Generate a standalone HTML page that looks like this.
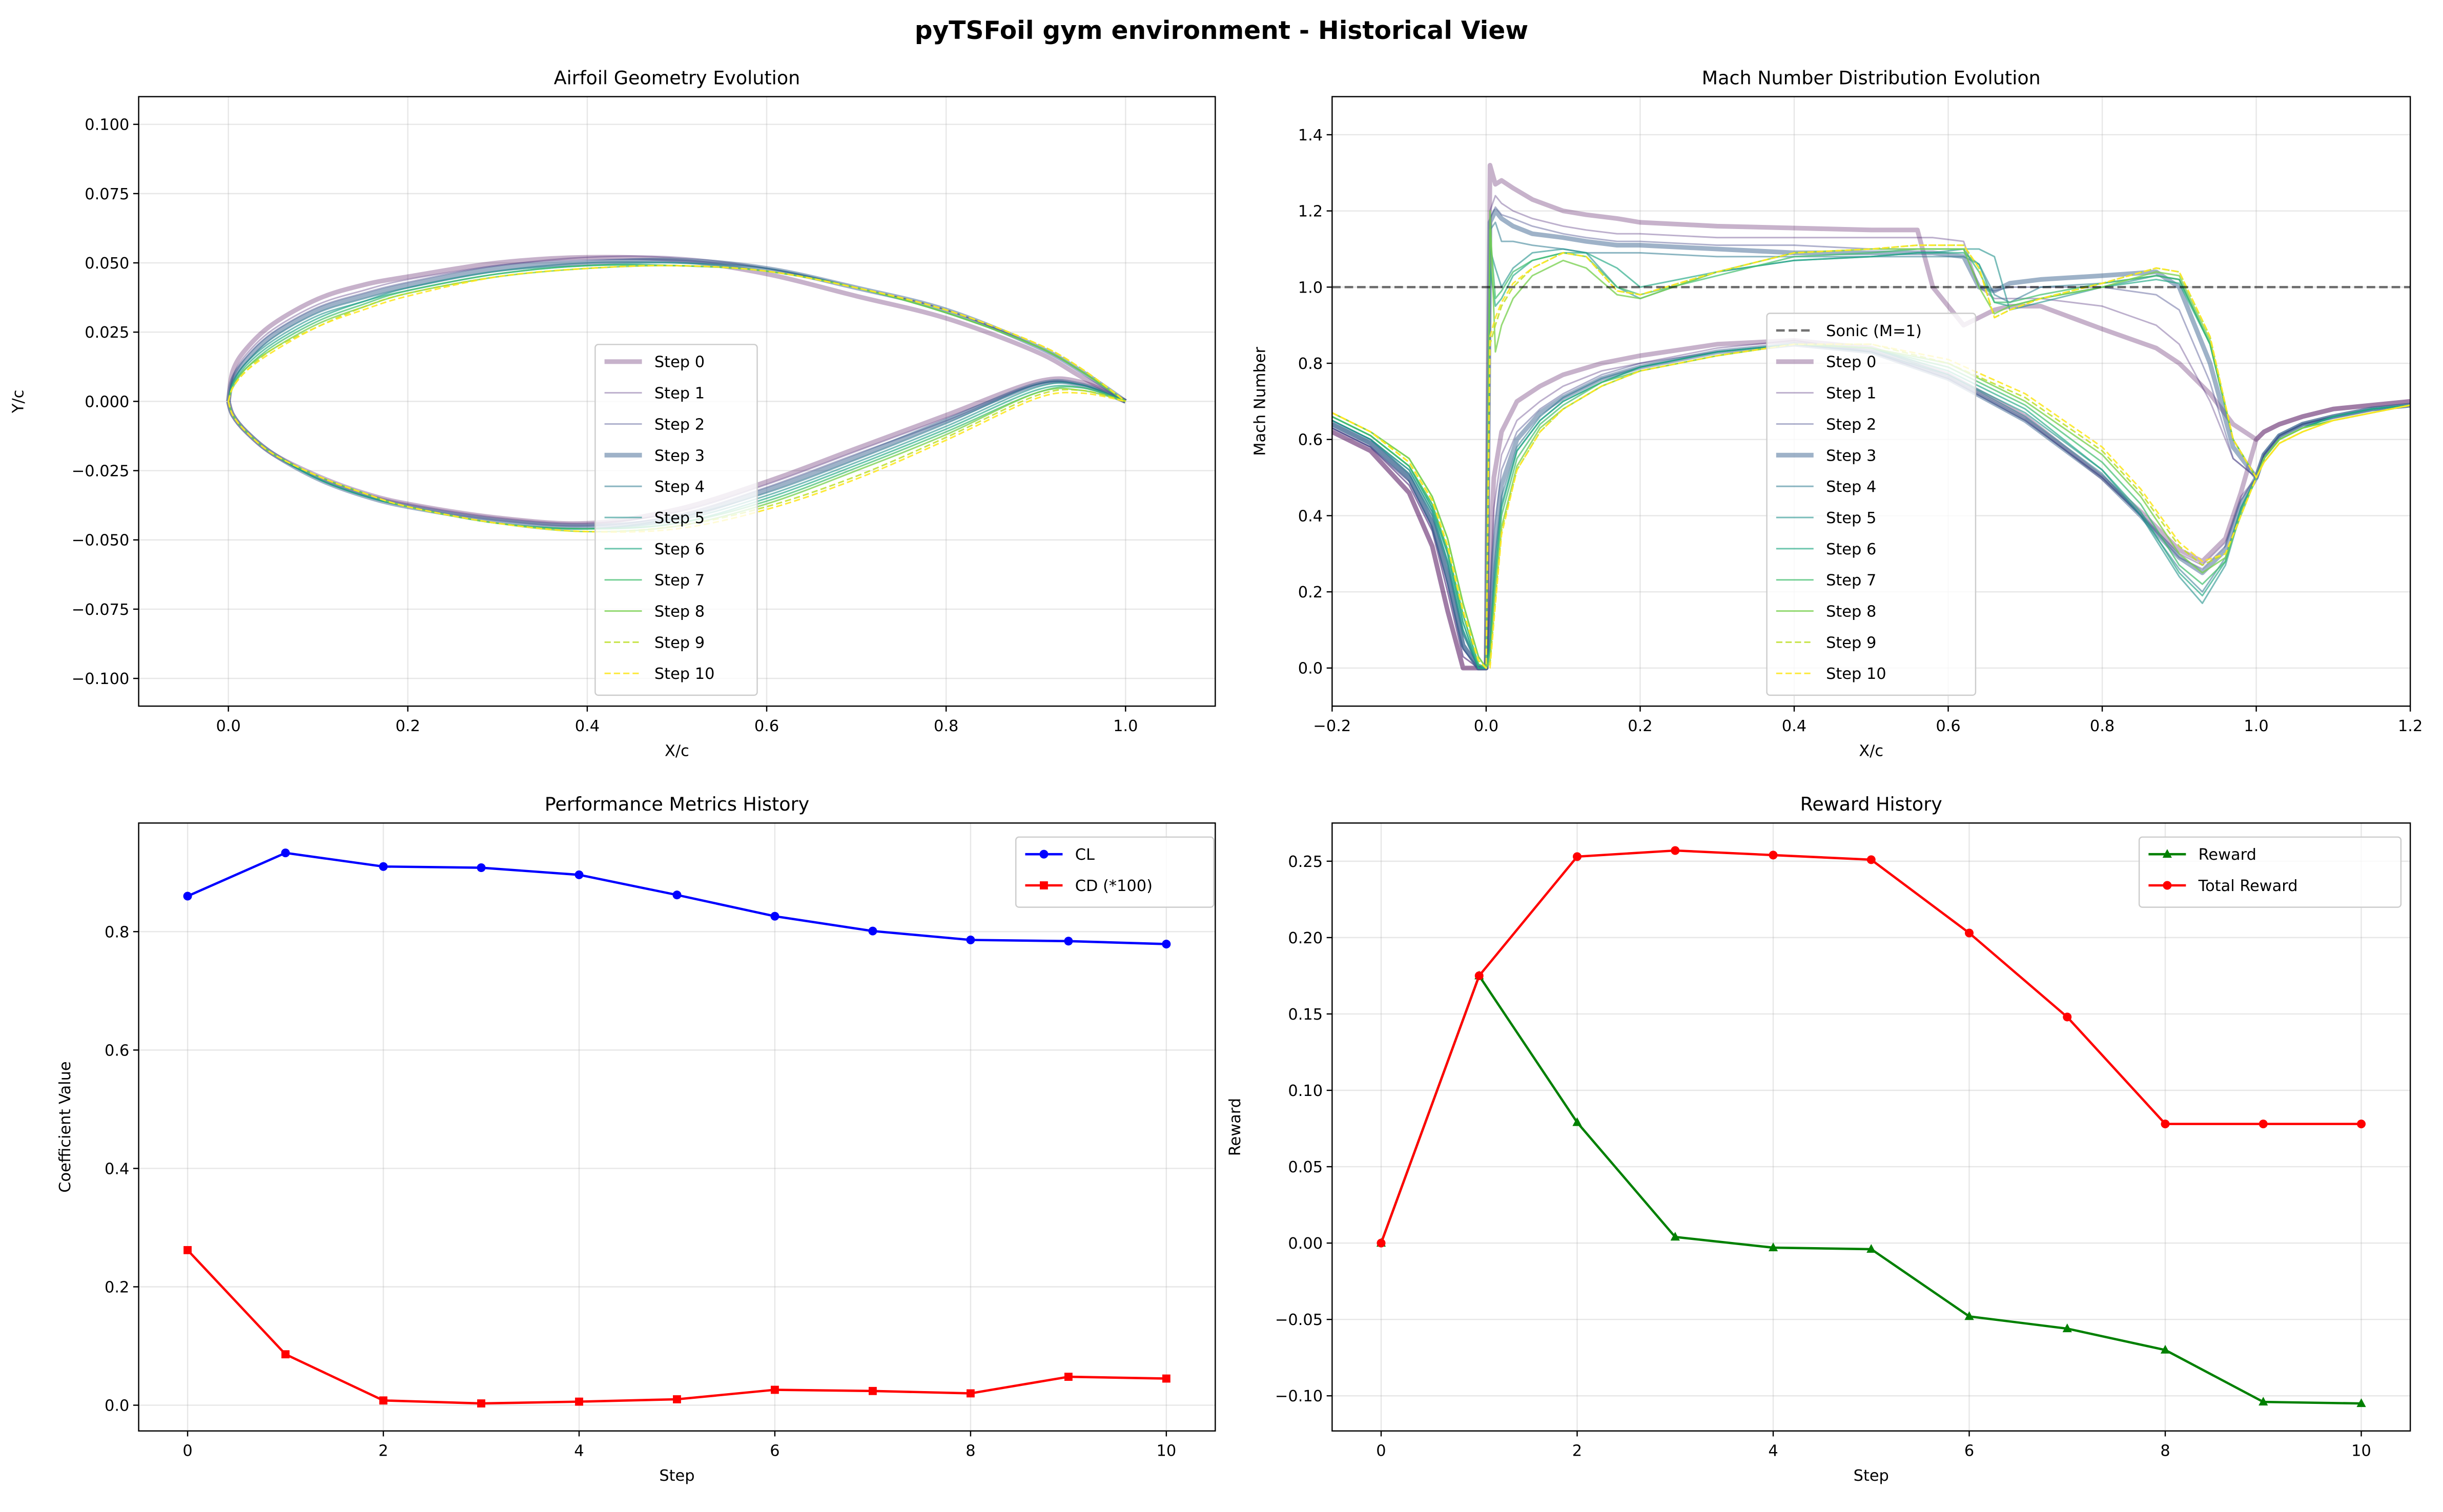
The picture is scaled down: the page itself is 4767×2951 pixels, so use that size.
<!DOCTYPE html>
<html><head><meta charset="utf-8"><style>
html,body{margin:0;padding:0;background:#fff;}
svg{display:block;font-family:"DejaVu Sans","Liberation Sans",sans-serif;}
</style></head><body>
<svg id="fig" xmlns="http://www.w3.org/2000/svg" width="4767" height="2951" viewBox="0 0 1568 970" preserveAspectRatio="none">
<rect x="0" y="0" width="1568" height="970" fill="#fff"/>
<text x="784" y="25" font-size="16" font-weight="bold" text-anchor="middle">pyTSFoil gym environment - Historical View</text>
</svg>
<script>
// ---------- DATA ----------
const stepLabels = ["Step 0","Step 1","Step 2","Step 3","Step 4","Step 5","Step 6","Step 7","Step 8","Step 9","Step 10"];
const stepColors = ["#440154","#482475","#414487","#355f8d","#2a788e","#21918c","#22a884","#44bf70","#7ad151","#bddf26","#fde725"];
const geoX = [0,0.005,0.02,0.05,0.1,0.15,0.2,0.3,0.4,0.5,0.6,0.7,0.8,0.9,0.95,1.0];
const geoUpper = [
 [0,0.011,0.019,0.028,0.037,0.042,0.045,0.050,0.052,0.051,0.046,0.038,0.030,0.018,0.009,0],
 [0,0.009,0.017,0.026,0.035,0.040,0.044,0.049,0.052,0.052,0.048,0.041,0.033,0.020,0.011,0],
 [0,0.008,0.016,0.025,0.034,0.039,0.043,0.049,0.051,0.051,0.048,0.041,0.033,0.020,0.011,0],
 [0,0.008,0.015,0.024,0.033,0.038,0.042,0.048,0.050,0.051,0.048,0.041,0.033,0.020,0.011,0],
 [0,0.007,0.014,0.023,0.032,0.037,0.041,0.047,0.050,0.050,0.048,0.041,0.032,0.020,0.011,0],
 [0,0.007,0.014,0.022,0.031,0.036,0.041,0.047,0.049,0.050,0.047,0.041,0.032,0.020,0.011,0],
 [0,0.006,0.013,0.021,0.030,0.036,0.040,0.046,0.049,0.049,0.047,0.041,0.032,0.020,0.011,0],
 [0,0.006,0.012,0.020,0.029,0.035,0.040,0.046,0.049,0.049,0.047,0.041,0.032,0.020,0.011,0],
 [0,0.005,0.012,0.019,0.028,0.034,0.039,0.045,0.048,0.049,0.047,0.041,0.032,0.020,0.011,0],
 [0,0.005,0.011,0.019,0.027,0.034,0.039,0.045,0.048,0.049,0.047,0.041,0.033,0.021,0.012,0],
 [0,0.005,0.011,0.018,0.027,0.033,0.038,0.045,0.048,0.049,0.047,0.041,0.033,0.021,0.012,0]];
const geoLower = [
 [0,-0.005,-0.011,-0.019,-0.027,-0.033,-0.037,-0.042,-0.044,-0.039,-0.029,-0.017,-0.005,0.007,0.007,0],
 [0,-0.005,-0.011,-0.019,-0.027,-0.033,-0.037,-0.042,-0.044,-0.040,-0.030,-0.018,-0.006,0.006,0.006,0],
 [0,-0.005,-0.011,-0.019,-0.027,-0.033,-0.038,-0.043,-0.045,-0.041,-0.031,-0.019,-0.007,0.006,0.006,0],
 [0,-0.005,-0.011,-0.019,-0.028,-0.034,-0.038,-0.043,-0.045,-0.042,-0.032,-0.020,-0.007,0.006,0.006,0],
 [0,-0.005,-0.011,-0.019,-0.028,-0.034,-0.038,-0.044,-0.046,-0.042,-0.033,-0.021,-0.008,0.006,0.006,0],
 [0,-0.005,-0.011,-0.019,-0.028,-0.034,-0.038,-0.044,-0.046,-0.043,-0.034,-0.022,-0.009,0.005,0.006,0],
 [0,-0.005,-0.011,-0.019,-0.028,-0.034,-0.038,-0.044,-0.046,-0.044,-0.035,-0.023,-0.010,0.004,0.005,0],
 [0,-0.005,-0.011,-0.019,-0.027,-0.033,-0.038,-0.044,-0.046,-0.044,-0.036,-0.024,-0.011,0.003,0.005,0],
 [0,-0.005,-0.011,-0.019,-0.027,-0.033,-0.038,-0.044,-0.047,-0.045,-0.037,-0.025,-0.012,0.003,0.004,0],
 [0,-0.005,-0.011,-0.019,-0.027,-0.033,-0.038,-0.044,-0.047,-0.045,-0.038,-0.027,-0.013,0.002,0.004,0],
 [0,-0.005,-0.011,-0.019,-0.027,-0.033,-0.038,-0.044,-0.047,-0.046,-0.039,-0.028,-0.014,0.001,0.003,0]];
const machXUp = [-0.2,-0.15,-0.1,-0.07,-0.05,-0.03,-0.01,0.0];
const machUpstream = [
 [0.62,0.57,0.46,0.32,0.15,0.0,0.0,0.0],[0.63,0.58,0.48,0.36,0.2,0.03,0.0,0.0],[0.63,0.58,0.49,0.37,0.22,0.05,0.0,0.0],
 [0.64,0.59,0.5,0.38,0.24,0.06,0.0,0.0],[0.65,0.6,0.51,0.4,0.27,0.09,0.0,0.0],[0.65,0.6,0.52,0.41,0.28,0.1,0.0,0.0],
 [0.66,0.61,0.53,0.42,0.3,0.12,0.0,0.0],[0.66,0.61,0.53,0.43,0.31,0.14,0.01,0.0],[0.67,0.62,0.55,0.45,0.34,0.17,0.03,0.0],
 [0.67,0.62,0.54,0.44,0.32,0.15,0.02,0.0],[0.67,0.62,0.54,0.44,0.32,0.15,0.02,0.0]];
const machXU = [0,0.005,0.012,0.02,0.035,0.06,0.1,0.13,0.17,0.2,0.3,0.4,0.5,0.56,0.58,0.62,0.64,0.66,0.68,0.72,0.8,0.87,0.9,0.94,0.97,1.0];
const machUpper = [
 [0,1.32,1.27,1.28,1.26,1.23,1.2,1.19,1.18,1.17,1.16,1.155,1.15,1.15,1.0,0.9,0.92,0.94,0.95,0.95,0.89,0.84,0.8,0.72,0.64,0.6],
 [0,1.2,1.24,1.22,1.2,1.18,1.16,1.15,1.14,1.14,1.13,1.13,1.13,1.13,1.13,1.12,1.0,0.97,0.97,0.97,0.95,0.9,0.85,0.7,0.55,0.5],
 [0,1.18,1.21,1.19,1.18,1.16,1.14,1.13,1.12,1.12,1.11,1.11,1.1,1.1,1.1,1.1,1.0,0.99,1.0,1.0,1.0,0.98,0.94,0.75,0.55,0.5],
 [0,1.17,1.2,1.18,1.16,1.14,1.13,1.12,1.11,1.11,1.1,1.09,1.09,1.09,1.09,1.08,1.0,0.99,1.01,1.02,1.03,1.04,1.0,0.8,0.58,0.5],
 [0,1.15,1.17,1.12,1.12,1.11,1.1,1.09,1.09,1.09,1.08,1.08,1.08,1.08,1.08,1.08,1.06,0.98,0.96,1.0,1.01,1.03,1.02,0.85,0.6,0.5],
 [0,1.1,1.05,1.0,1.05,1.09,1.1,1.09,1.0,0.97,1.04,1.07,1.08,1.09,1.09,1.1,1.1,1.08,0.94,0.96,1.0,1.03,1.02,0.85,0.6,0.5],
 [0,1.05,0.95,0.97,1.03,1.07,1.09,1.09,1.05,1.0,1.04,1.07,1.08,1.09,1.09,1.09,1.06,0.96,0.95,0.97,1.0,1.02,1.01,0.85,0.6,0.5],
 [0,1.15,0.97,0.99,1.04,1.07,1.09,1.08,1.0,0.98,1.03,1.08,1.09,1.1,1.1,1.1,1.04,0.96,0.96,0.98,1.01,1.03,1.02,0.85,0.6,0.5],
 [0,1.2,0.83,0.9,0.97,1.03,1.07,1.05,0.98,0.97,1.04,1.09,1.1,1.1,1.1,1.1,1.0,0.93,0.95,0.97,1.0,1.04,1.03,0.86,0.6,0.5],
 [0,0.85,0.9,0.95,1.0,1.05,1.09,1.08,0.99,0.98,1.04,1.09,1.1,1.11,1.11,1.11,1.05,0.92,0.94,0.97,1.01,1.05,1.04,0.87,0.6,0.5],
 [0,0.87,0.92,0.96,1.01,1.05,1.09,1.08,0.99,0.98,1.04,1.09,1.1,1.11,1.11,1.11,1.05,0.92,0.94,0.97,1.01,1.05,1.04,0.87,0.6,0.5]];
const machXL = [0,0.005,0.01,0.02,0.04,0.07,0.1,0.15,0.2,0.3,0.4,0.5,0.6,0.7,0.8,0.85,0.9,0.93,0.96,0.98,1.0];
const machLower = [
 [0,0.3,0.5,0.62,0.7,0.74,0.77,0.8,0.82,0.85,0.86,0.84,0.77,0.66,0.5,0.41,0.31,0.28,0.34,0.46,0.6],
 [0,0.2,0.42,0.56,0.65,0.7,0.74,0.78,0.8,0.84,0.86,0.83,0.76,0.65,0.5,0.4,0.3,0.27,0.33,0.45,0.5],
 [0,0.15,0.36,0.52,0.62,0.68,0.72,0.77,0.8,0.83,0.85,0.83,0.76,0.65,0.5,0.4,0.29,0.26,0.32,0.44,0.5],
 [0,0.1,0.3,0.48,0.6,0.67,0.71,0.76,0.79,0.83,0.85,0.83,0.76,0.65,0.5,0.4,0.29,0.25,0.31,0.43,0.5],
 [0,0.08,0.26,0.45,0.58,0.66,0.71,0.76,0.79,0.83,0.85,0.83,0.77,0.66,0.51,0.4,0.26,0.2,0.29,0.42,0.5],
 [0,0.06,0.22,0.43,0.57,0.65,0.7,0.75,0.79,0.83,0.85,0.84,0.77,0.67,0.52,0.4,0.24,0.17,0.27,0.41,0.5],
 [0,0.05,0.2,0.42,0.57,0.65,0.7,0.75,0.79,0.83,0.85,0.84,0.78,0.68,0.52,0.41,0.25,0.19,0.28,0.42,0.5],
 [0,0.04,0.18,0.4,0.55,0.64,0.69,0.75,0.78,0.82,0.85,0.84,0.79,0.69,0.54,0.43,0.27,0.22,0.28,0.41,0.5],
 [0,0.02,0.15,0.37,0.53,0.63,0.68,0.74,0.78,0.82,0.85,0.84,0.8,0.7,0.56,0.45,0.3,0.25,0.29,0.4,0.5],
 [0,0.01,0.13,0.36,0.52,0.62,0.68,0.74,0.78,0.82,0.85,0.85,0.8,0.71,0.57,0.46,0.32,0.27,0.3,0.4,0.5],
 [0,0.0,0.12,0.35,0.52,0.62,0.68,0.74,0.78,0.82,0.85,0.85,0.81,0.72,0.58,0.47,0.33,0.28,0.3,0.4,0.5]];
const machXW = [1.0,1.01,1.03,1.06,1.1,1.15,1.2];
const machWake = [
 [0.6,0.62,0.64,0.66,0.68,0.69,0.7],[0.5,0.56,0.61,0.64,0.66,0.68,0.69],[0.5,0.56,0.61,0.64,0.66,0.68,0.69],
 [0.5,0.56,0.61,0.64,0.66,0.68,0.69],[0.5,0.55,0.6,0.63,0.66,0.68,0.69],[0.5,0.55,0.6,0.63,0.66,0.68,0.69],
 [0.5,0.55,0.6,0.63,0.66,0.68,0.69],[0.5,0.55,0.6,0.63,0.65,0.67,0.69],[0.5,0.55,0.6,0.63,0.65,0.67,0.69],
 [0.5,0.54,0.59,0.62,0.65,0.67,0.69],[0.5,0.54,0.59,0.62,0.65,0.67,0.69]];
const steps = [0,1,2,3,4,5,6,7,8,9,10];
const clValues = [0.86,0.933,0.91,0.908,0.896,0.862,0.826,0.801,0.786,0.784,0.779];
const cdValues = [0.262,0.086,0.008,0.003,0.006,0.010,0.026,0.024,0.020,0.048,0.045];
const rewardValues = [0,0.175,0.079,0.004,-0.003,-0.004,-0.048,-0.056,-0.070,-0.104,-0.105];
const totalRewardValues = [0,0.175,0.253,0.257,0.254,0.251,0.203,0.148,0.078,0.078,0.078];
const geoXTicks = [0,0.2,0.4,0.6,0.8,1.0];
const geoYTicks = [-0.1,-0.075,-0.05,-0.025,0,0.025,0.05,0.075,0.1];
const machXTicks = [-0.2,0,0.2,0.4,0.6,0.8,1.0,1.2];
const machYTicks = [0,0.2,0.4,0.6,0.8,1.0,1.2,1.4];
const stepTicks = [0,2,4,6,8,10];
const coefYTicks = [0,0.2,0.4,0.6,0.8];
const rewardYTicks = [-0.1,-0.05,0,0.05,0.1,0.15,0.2,0.25];

// ---------- HELPERS ----------
const NS="http://www.w3.org/2000/svg";
const fig=document.getElementById('fig');
function mk(tag,attrs,parent){const e=document.createElementNS(NS,tag);for(const k in attrs)e.setAttribute(k,attrs[k]);(parent||fig).appendChild(e);return e;}
function fmt(v,d){const s=Math.abs(v).toFixed(d);return (v<-1e-9?"\u2212":"")+s;}
function panel(name,px0,px1,py0,py1,xmin,xmax,ymin,ymax){
  const g=mk('g',{});
  
  
  const sx=v=>px0+(v-xmin)/(xmax-xmin)*(px1-px0);
  const sy=v=>py1-(v-ymin)/(ymax-ymin)*(py1-py0);
  return {g,sx,sy,px0,px1,py0,py1};
}
function axes(P,xt,yt,xd,yd,title,xl,yl,ylx){
  const grid=mk('g',{},P.g);
  
  
  xt.forEach(v=>{mk('line',{x1:P.sx(v),x2:P.sx(v),y1:P.py0,y2:P.py1,stroke:'#b0b0b0','stroke-opacity':0.3,'stroke-width':0.8},grid);});
  yt.forEach(v=>{mk('line',{x1:P.px0,x2:P.px1,y1:P.sy(v),y2:P.sy(v),stroke:'#b0b0b0','stroke-opacity':0.3,'stroke-width':0.8},grid);});
  const xa=mk('g',{},P.g);
  
  
  xt.forEach(v=>{const x=P.sx(v);mk('line',{x1:x,x2:x,y1:P.py1,y2:P.py1+3.5,stroke:'#000','stroke-width':0.8},xa);
    const t=mk('text',{x:x,y:P.py1+16,'font-size':10,'text-anchor':'middle'},xa);t.textContent=fmt(v,xd);
    
    });
  const ya=mk('g',{},P.g);
  
  
  yt.forEach(v=>{const y=P.sy(v);mk('line',{x1:P.px0-3.5,x2:P.px0,y1:y,y2:y,stroke:'#000','stroke-width':0.8},ya);
    const t=mk('text',{x:P.px0-6,y:y+3.6,'font-size':10,'text-anchor':'end'},ya);t.textContent=fmt(v,yd);
    
    });
  const tt=mk('text',{x:(P.px0+P.px1)/2,y:P.py0-8,'font-size':12,'text-anchor':'middle'},P.g);tt.textContent=title;
  
  
  const xlab=mk('text',{x:(P.px0+P.px1)/2,y:P.py1+32,'font-size':10,'text-anchor':'middle'},P.g);xlab.textContent=xl;
  
  
  const yc=(P.py0+P.py1)/2;
  const ylab=mk('text',{x:ylx,y:yc,'font-size':10,'text-anchor':'middle',transform:`rotate(-90 ${ylx} ${yc})`},P.g);ylab.textContent=yl;
  
  
}
function frame(P){mk('rect',{x:P.px0,y:P.py0,width:P.px1-P.px0,height:P.py1-P.py0,fill:'none',stroke:'#000','stroke-width':0.8},P.g);}
function clip(P,id){const cp=mk('clipPath',{id:id},P.g);mk('rect',{x:P.px0,y:P.py0,width:P.px1-P.px0,height:P.py1-P.py0},cp);const g=mk('g',{'clip-path':`url(#${id})`},P.g);return g;}
function pts(xs,ys,P){return xs.map((x,i)=>P.sx(x).toFixed(2)+','+P.sy(ys[i]).toFixed(2)).join(' ');}
function smoothPath(xs,ys,P){
  const p=xs.map((x,i)=>[P.sx(x),P.sy(ys[i])]);
  let d='M'+p[0][0].toFixed(2)+','+p[0][1].toFixed(2);
  for(let i=0;i<p.length-1;i++){
    const p0=p[i-1]||p[i],p1=p[i],p2=p[i+1],p3=p[i+2]||p[i+1];
    const c1=[p1[0]+(p2[0]-p0[0])/6,p1[1]+(p2[1]-p0[1])/6];
    const c2=[p2[0]-(p3[0]-p1[0])/6,p2[1]-(p3[1]-p1[1])/6];
    d+=` C${c1[0].toFixed(2)},${c1[1].toFixed(2)} ${c2[0].toFixed(2)},${c2[1].toFixed(2)} ${p2[0].toFixed(2)},${p2[1].toFixed(2)}`;
  }
  return d;
}
function stepStyle(i){return {stroke:stepColors[i],'stroke-opacity':(0.3+0.06*i).toFixed(2),'stroke-width':(i===0||i===3)?3:1,'stroke-dasharray':(i>=9)?'4,2':'none',fill:'none','stroke-linejoin':'round'};}
function legend(P,x,y,w,rows,name){
  const g=mk('g',{},P.g);
  
  
  mk('rect',{x:x,y:y,width:w,height:rows.length*20+5,rx:2,fill:'#fff','fill-opacity':0.8,stroke:'#cccccc','stroke-width':0.8},g);
  rows.forEach((r,k)=>{const cy=y+11+k*20;
    const e=mk('g',{},g);
    
    
    r.draw(e,x+6,x+30,cy);
    const t=mk('text',{x:x+38,y:cy+3.6,'font-size':10},e);t.textContent=r.label;});
}

// ---------- PANEL 1: Geometry ----------
const P1=panel('airfoil-geometry-chart',89,780,62,453,-0.1,1.1,-0.11,0.11);
axes(P1,geoXTicks,geoYTicks,1,3,'Airfoil Geometry Evolution','X/c','Y/c',15);
const g1=clip(P1,'c1');
steps.forEach(i=>{
  const u=mk('path',Object.assign({d:smoothPath(geoX,geoUpper[i],P1)},stepStyle(i)),g1);
  
  
  const l=mk('path',Object.assign({d:smoothPath(geoX,geoLower[i],P1)},stepStyle(i)),g1);
  
  
});
frame(P1);
legend(P1,382,221,104,steps.map(i=>({label:stepLabels[i],draw:(e,a,b,cy)=>mk('line',Object.assign({x1:a,x2:b,y1:cy,y2:cy},stepStyle(i)),e)})),'geometry-legend');

// ---------- PANEL 2: Mach ----------
const P2=panel('mach-distribution-chart',855,1547,62,453,-0.2,1.2,-0.1,1.5);
axes(P2,machXTicks,machYTicks,1,1,'Mach Number Distribution Evolution','X/c','Mach Number',812);
const g2=clip(P2,'c2');
steps.forEach(i=>{
  const xu=machXUp.concat(machXU.slice(1),machXW.slice(1));
  const yu=machUpstream[i].concat(machUpper[i].slice(1,-1),[machWake[i][0]],machWake[i].slice(1));
  const xl=machXUp.concat(machXL.slice(1),machXW.slice(1));
  const yl=machUpstream[i].concat(machLower[i].slice(1,-1),[machWake[i][0]],machWake[i].slice(1));
  const u=mk('polyline',Object.assign({points:pts(xu,yu,P2)},stepStyle(i)),g2);
  
  
  const l=mk('polyline',Object.assign({points:pts(xl,yl,P2)},stepStyle(i)),g2);
  
  
});
const sonic=mk('line',{x1:P2.px0,x2:P2.px1,y1:P2.sy(1),y2:P2.sy(1),stroke:'#000','stroke-opacity':0.55,'stroke-width':1.5,'stroke-dasharray':'5.5,2.5'},g2);


frame(P2);
legend(P2,1134,201,134,[{label:'Sonic (M=1)',draw:(e,a,b,cy)=>mk('line',{x1:a,x2:b,y1:cy,y2:cy,stroke:'#000','stroke-opacity':0.55,'stroke-width':1.5,'stroke-dasharray':'5.5,2.5'},e)}].concat(steps.map(i=>({label:stepLabels[i],draw:(e,a,b,cy)=>mk('line',Object.assign({x1:a,x2:b,y1:cy,y2:cy},stepStyle(i)),e)}))),'mach-legend');

// ---------- markers ----------
function marker(type,x,y,color,parent){
  if(type==='o')return mk('circle',{cx:x,cy:y,r:2.8,fill:color},parent);
  if(type==='s')return mk('rect',{x:x-2.6,y:y-2.6,width:5.2,height:5.2,fill:color},parent);
  return mk('polygon',{points:`${x},${y-3.3} ${x-3},${y+2.3} ${x+3},${y+2.3}`,fill:color},parent);
}
function series(P,parent,xs,ys,color,mtype,name){
  const g=mk('g',{},parent);
  
  
  mk('polyline',{points:pts(xs,ys,P),fill:'none',stroke:color,'stroke-width':1.5,'stroke-linejoin':'round'},g);
  xs.forEach((x,k)=>{const m=marker(mtype,P.sx(x),P.sy(ys[k]),color,g);
    
    });
}

// ---------- PANEL 3: Performance ----------
const P3=panel('performance-metrics-chart',89,780,528,918,-0.5,10.5,-0.0435,0.9835);
axes(P3,stepTicks,coefYTicks,0,1,'Performance Metrics History','Step','Coefficient Value',45);
const g3=clip(P3,'c3');
series(P3,g3,steps,clValues,'#0000ff','o','cl-series');
series(P3,g3,steps,cdValues,'#ff0000','s','cd-series');
frame(P3);
legend(P3,652,537,127,[
 {label:'CL',draw:(e,a,b,cy)=>{mk('line',{x1:a,x2:b,y1:cy,y2:cy,stroke:'#0000ff','stroke-width':1.5},e);marker('o',(a+b)/2,cy,'#0000ff',e);}},
 {label:'CD (*100)',draw:(e,a,b,cy)=>{mk('line',{x1:a,x2:b,y1:cy,y2:cy,stroke:'#ff0000','stroke-width':1.5},e);marker('s',(a+b)/2,cy,'#ff0000',e);}}],'performance-legend');

// ---------- PANEL 4: Reward ----------
const P4=panel('reward-history-chart',855,1547,528,918,-0.5,10.5,-0.123,0.275);
axes(P4,stepTicks,rewardYTicks,0,2,'Reward History','Step','Reward',796);
const g4=clip(P4,'c4');
series(P4,g4,steps,rewardValues,'#008000','^','reward-series');
series(P4,g4,steps,totalRewardValues,'#ff0000','o','total-reward-series');
frame(P4);
legend(P4,1373,537,168,[
 {label:'Reward',draw:(e,a,b,cy)=>{mk('line',{x1:a,x2:b,y1:cy,y2:cy,stroke:'#008000','stroke-width':1.5},e);marker('^',(a+b)/2,cy,'#008000',e);}},
 {label:'Total Reward',draw:(e,a,b,cy)=>{mk('line',{x1:a,x2:b,y1:cy,y2:cy,stroke:'#ff0000','stroke-width':1.5},e);marker('o',(a+b)/2,cy,'#ff0000',e);}}],'reward-legend');
</script>
</body></html>
